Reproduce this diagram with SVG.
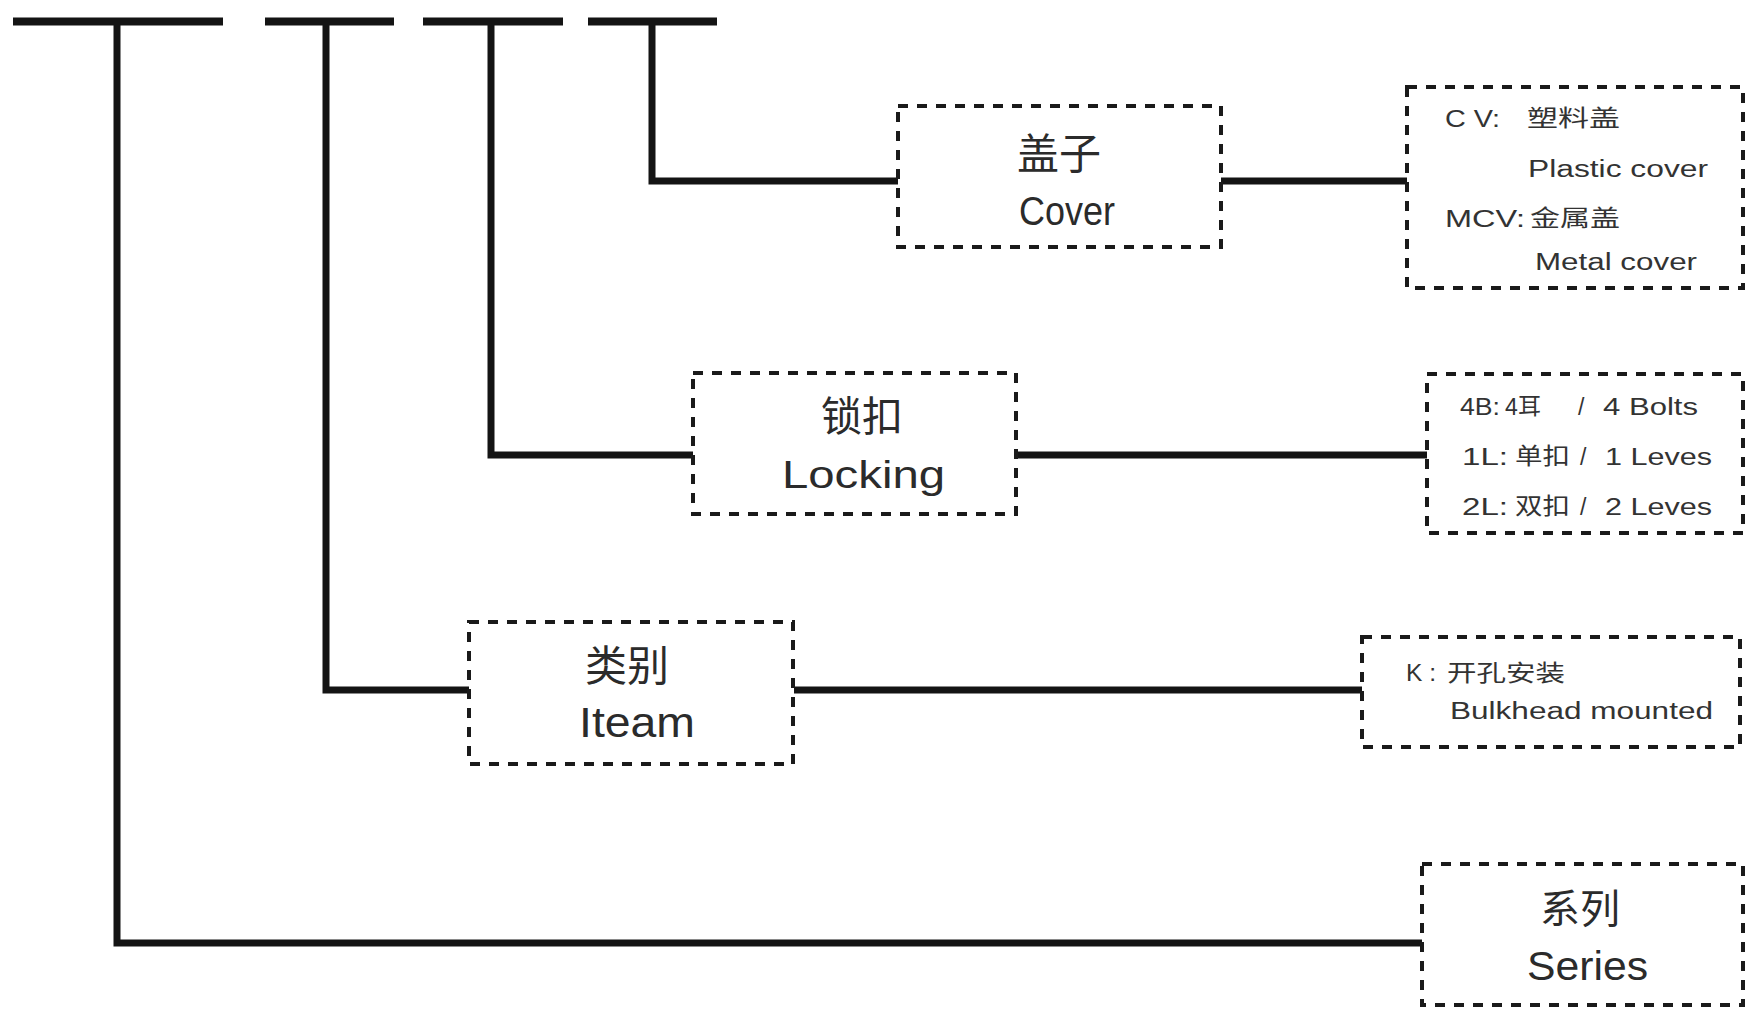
<svg xmlns="http://www.w3.org/2000/svg" width="1747" height="1010" viewBox="0 0 1747 1010">
<style>
.bg{fill:#ffffff}
.box{fill:none;stroke:#1a1a1a;stroke-width:4;stroke-dasharray:10 9}
.ln{fill:none;stroke:#141414;stroke-width:7;stroke-linecap:butt;stroke-linejoin:miter}
.bar{fill:none;stroke:#141414;stroke-width:8}
.lbl{font-family:"Liberation Sans","Noto Sans CJK SC",sans-serif;fill:#2b2b2b}
.cjk{font-family:"Noto Sans CJK SC","Liberation Sans",sans-serif;fill:#2b2b2b}
.opt{font-family:"Liberation Sans","Noto Sans CJK SC",sans-serif;fill:#333333;font-size:23px}
.optc{font-family:"Noto Sans CJK SC","Liberation Sans",sans-serif;fill:#333333;font-size:23px}
</style>
<rect class="bg" x="0" y="0" width="1747" height="1010"/>
<g id="code-bars">
<line class="bar" x1="13" y1="21.5" x2="223" y2="21.5"/>
<line class="bar" x1="265" y1="21.5" x2="394" y2="21.5"/>
<line class="bar" x1="423" y1="21.5" x2="563" y2="21.5"/>
<line class="bar" x1="588" y1="21.5" x2="717" y2="21.5"/>
</g>
<g id="connectors">
<polyline class="ln" points="117,21 117,943 1422,943"/>
<polyline class="ln" points="326,21 326,690 469,690"/>
<line class="ln" x1="794" y1="690" x2="1362" y2="690"/>
<polyline class="ln" points="491,21 491,455 693,455"/>
<line class="ln" x1="1016" y1="455" x2="1427" y2="455"/>
<polyline class="ln" points="652,21 652,181 898,181"/>
<line class="ln" x1="1221" y1="181" x2="1407" y2="181"/>
</g>
<g id="node-cover">
<rect class="box" x="898" y="106" width="323" height="141"/>
<text class="cjk" x="1017" y="169" font-size="42">盖子</text>
<text class="lbl" x="1019" y="225" font-size="40" textLength="96" lengthAdjust="spacingAndGlyphs">Cover</text>
</g>
<g id="node-cover-options">
<rect class="box" x="1407" y="87" width="336" height="201"/>
<text class="opt" x="1445" y="127" textLength="55" lengthAdjust="spacingAndGlyphs">C V:</text>
<text class="optc" x="1527" y="126" textLength="93" lengthAdjust="spacingAndGlyphs">塑料盖</text>
<text class="opt" x="1528" y="177" textLength="180" lengthAdjust="spacingAndGlyphs">Plastic cover</text>
<text class="opt" x="1445" y="227" textLength="80" lengthAdjust="spacingAndGlyphs">MCV:</text>
<text class="optc" x="1530" y="226" textLength="90" lengthAdjust="spacingAndGlyphs">金属盖</text>
<text class="opt" x="1535" y="270" textLength="162" lengthAdjust="spacingAndGlyphs">Metal cover</text>
</g>
<g id="node-locking">
<rect class="box" x="693" y="373" width="323" height="141"/>
<text class="cjk" x="821" y="431" font-size="41">锁扣</text>
<text class="lbl" x="782" y="488" font-size="39" textLength="163" lengthAdjust="spacingAndGlyphs">Locking</text>
</g>
<g id="node-locking-options">
<rect class="box" x="1427" y="374" width="316" height="159"/>
<text class="opt" x="1460" y="415" textLength="40" lengthAdjust="spacingAndGlyphs">4B:</text>
<text class="opt" x="1505" y="415">4</text>
<text class="optc" x="1518" y="414">耳</text>
<text class="opt" x="1578" y="415">/</text>
<text class="opt" x="1603" y="415" textLength="95" lengthAdjust="spacingAndGlyphs">4 Bolts</text>
<text class="opt" x="1462" y="465" textLength="46" lengthAdjust="spacingAndGlyphs">1L:</text>
<text class="optc" x="1515" y="464" textLength="55" lengthAdjust="spacingAndGlyphs">单扣</text>
<text class="opt" x="1580" y="465">/</text>
<text class="opt" x="1605" y="465" textLength="107" lengthAdjust="spacingAndGlyphs">1 Leves</text>
<text class="opt" x="1462" y="515" textLength="46" lengthAdjust="spacingAndGlyphs">2L:</text>
<text class="optc" x="1515" y="514" textLength="55" lengthAdjust="spacingAndGlyphs">双扣</text>
<text class="opt" x="1580" y="515">/</text>
<text class="opt" x="1605" y="515" textLength="107" lengthAdjust="spacingAndGlyphs">2 Leves</text>
</g>
<g id="node-iteam">
<rect class="box" x="469" y="622" width="324" height="142"/>
<text class="cjk" x="585" y="681" font-size="42">类别</text>
<text class="lbl" x="579" y="737" font-size="42" textLength="116" lengthAdjust="spacingAndGlyphs">Iteam</text>
</g>
<g id="node-iteam-options">
<rect class="box" x="1362" y="637" width="378" height="110"/>
<text class="opt" x="1406" y="681" font-size="21" textLength="30" lengthAdjust="spacingAndGlyphs">K :</text>
<text class="optc" x="1447" y="681" textLength="118" lengthAdjust="spacingAndGlyphs">开孔安装</text>
<text class="opt" x="1450" y="719" font-size="25" textLength="263" lengthAdjust="spacingAndGlyphs">Bulkhead mounted</text>
</g>
<g id="node-series">
<rect class="box" x="1422" y="864" width="321" height="141"/>
<text class="cjk" x="1540" y="923" font-size="40">系列</text>
<text class="lbl" x="1527" y="980" font-size="40" textLength="121" lengthAdjust="spacingAndGlyphs">Series</text>
</g>
</svg>
